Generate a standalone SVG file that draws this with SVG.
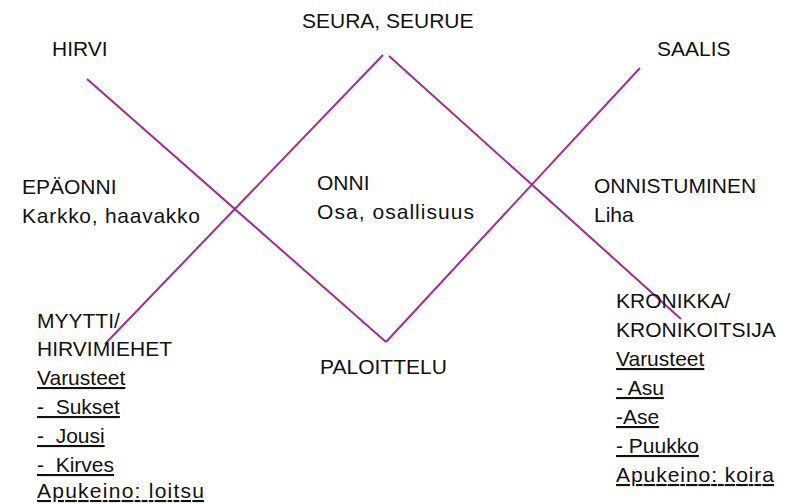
<svg xmlns="http://www.w3.org/2000/svg" width="789" height="504" viewBox="0 0 789 504">
<style>
text{font-family:"Liberation Sans",Arial,sans-serif;font-size:21px;fill:#111;white-space:pre}
.u{text-decoration:underline}
.ln{stroke:#A02B93;stroke-width:2;fill:none;stroke-linecap:butt}
</style>
<rect width="789" height="504" fill="#fff"/>
<g id="connectors">
<line class="ln" x1="87" y1="79" x2="386" y2="342"/>
<line class="ln" x1="383" y1="55" x2="105" y2="344"/>
<line class="ln" x1="389" y1="56" x2="681" y2="319"/>
<line class="ln" x1="386" y1="342" x2="640" y2="68"/>
</g>
<g id="seura"><text x="302" y="28">SEURA, SEURUE</text></g>
<g id="hirvi"><text x="52" y="56">HIRVI</text></g>
<g id="saalis"><text x="657" y="56">SAALIS</text></g>
<g id="epaonni"><text x="22" y="194">EPÄONNI</text><text x="22" y="223" textLength="178">Karkko, haavakko</text></g>
<g id="onni"><text x="317" y="190">ONNI</text><text x="317" y="219" textLength="157">Osa, osallisuus</text></g>
<g id="onnistuminen"><text x="594" y="193">ONNISTUMINEN</text><text x="594" y="222">Liha</text></g>
<g id="paloittelu"><text x="320" y="374">PALOITTELU</text></g>
<g id="myytti">
<text x="37" y="328">MYYTTI/</text>
<text x="37" y="356">HIRVIMIEHET</text>
<text class="u" x="37" y="385">Varusteet</text>
<text class="u" x="37" y="414">-  Sukset</text>
<text class="u" x="37" y="443">-  Jousi</text>
<text class="u" x="37" y="472">-  Kirves</text>
<text class="u" x="37" y="498" textLength="167">Apukeino: loitsu</text>
</g>
<g id="kronikka">
<text x="616" y="308">KRONIKKA/</text>
<text x="616" y="337">KRONIKOITSIJA</text>
<text class="u" x="616" y="366">Varusteet</text>
<text class="u" x="616" y="395">- Asu</text>
<text class="u" x="616" y="424">-Ase</text>
<text class="u" x="616" y="453">- Puukko</text>
<text class="u" x="616" y="482" textLength="158">Apukeino: koira</text>
</g>
</svg>
